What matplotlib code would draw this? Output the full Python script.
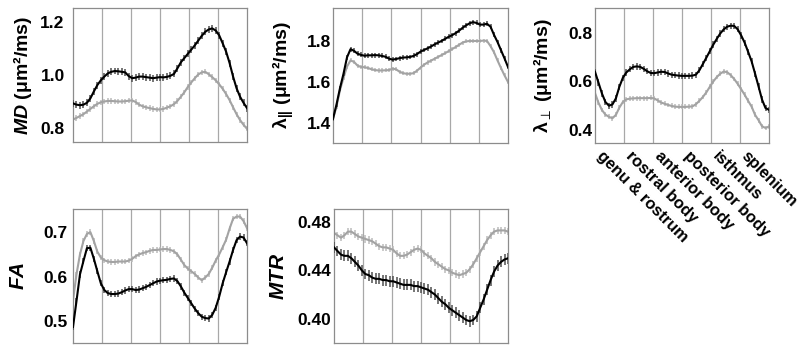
import numpy as np
import matplotlib
matplotlib.use("Agg")
import matplotlib.pyplot as plt
from matplotlib.transforms import ScaledTranslation

plt.rcParams['font.family'] = ['Liberation Sans', 'DejaVu Sans']
plt.rcParams['mathtext.fontset'] = 'custom'
plt.rcParams['mathtext.rm'] = 'Liberation Sans:bold'
plt.rcParams['mathtext.it'] = 'Liberation Sans:italic:bold'
plt.rcParams['mathtext.bf'] = 'Liberation Sans:bold'

regions = ["genu & rostrum", "rostral body", "anterior body",
           "posterior body", "isthmus", "splenium"]

md_black = [0.893, 0.888, 0.886, 0.888, 0.895, 0.912, 0.938, 0.962, 0.980, 0.994,
            1.006, 1.012, 1.015, 1.014, 1.012, 1.010, 0.996, 0.988, 0.990, 0.994,
            0.994, 0.992, 0.990, 0.988, 0.990, 0.992, 0.991, 0.993, 0.997, 1.004,
            1.025, 1.048, 1.064, 1.080, 1.096, 1.112, 1.130, 1.148, 1.163, 1.172,
            1.176, 1.168, 1.150, 1.120, 1.088, 1.045, 0.994, 0.950, 0.918, 0.895, 0.875]
md_gray = [0.832, 0.838, 0.845, 0.852, 0.862, 0.872, 0.882, 0.891, 0.897, 0.900,
           0.902, 0.902, 0.901, 0.900, 0.900, 0.901, 0.903, 0.904, 0.898, 0.888,
           0.882, 0.878, 0.875, 0.872, 0.870, 0.870, 0.872, 0.877, 0.882, 0.890,
           0.902, 0.918, 0.935, 0.955, 0.972, 0.988, 1.002, 1.010, 1.012, 1.003,
           0.992, 0.980, 0.965, 0.948, 0.928, 0.905, 0.878, 0.852, 0.830, 0.812, 0.797]

lpar_black = [1.420, 1.490, 1.570, 1.640, 1.720, 1.760, 1.752, 1.738, 1.732, 1.728,
              1.730, 1.730, 1.731, 1.730, 1.727, 1.723, 1.714, 1.709, 1.712, 1.716,
              1.719, 1.720, 1.722, 1.727, 1.736, 1.748, 1.756, 1.764, 1.773, 1.783,
              1.792, 1.800, 1.810, 1.820, 1.828, 1.838, 1.850, 1.864, 1.876, 1.886,
              1.892, 1.888, 1.880, 1.880, 1.884, 1.870, 1.830, 1.795, 1.755, 1.715, 1.673]
lpar_gray = [1.420, 1.480, 1.560, 1.620, 1.675, 1.705, 1.698, 1.680, 1.673, 1.672,
             1.668, 1.662, 1.658, 1.656, 1.656, 1.657, 1.658, 1.665, 1.662, 1.650,
             1.643, 1.640, 1.640, 1.643, 1.655, 1.670, 1.684, 1.695, 1.704, 1.713,
             1.722, 1.731, 1.740, 1.750, 1.760, 1.770, 1.781, 1.792, 1.798, 1.800,
             1.800, 1.800, 1.800, 1.802, 1.800, 1.775, 1.745, 1.705, 1.668, 1.632, 1.600]

lperp_black = [0.640, 0.595, 0.550, 0.515, 0.500, 0.505, 0.530, 0.578, 0.615, 0.637,
               0.650, 0.660, 0.662, 0.660, 0.652, 0.642, 0.635, 0.634, 0.637, 0.640,
               0.639, 0.633, 0.628, 0.626, 0.624, 0.623, 0.623, 0.623, 0.624, 0.628,
               0.646, 0.672, 0.698, 0.725, 0.752, 0.776, 0.798, 0.815, 0.826, 0.830,
               0.829, 0.815, 0.790, 0.760, 0.722, 0.683, 0.632, 0.579, 0.525, 0.490, 0.483]
lperp_gray = [0.552, 0.512, 0.482, 0.463, 0.454, 0.448, 0.462, 0.492, 0.515, 0.526,
              0.529, 0.530, 0.531, 0.531, 0.531, 0.531, 0.532, 0.530, 0.522, 0.513,
              0.508, 0.503, 0.499, 0.496, 0.495, 0.495, 0.495, 0.496, 0.497, 0.506,
              0.520, 0.536, 0.555, 0.578, 0.600, 0.618, 0.632, 0.641, 0.638, 0.626,
              0.610, 0.590, 0.568, 0.545, 0.520, 0.496, 0.462, 0.440, 0.415, 0.408, 0.414]

fa_black = [0.487, 0.545, 0.605, 0.635, 0.664, 0.665, 0.640, 0.612, 0.585, 0.570,
            0.563, 0.561, 0.561, 0.562, 0.565, 0.569, 0.572, 0.572, 0.570, 0.571,
            0.574, 0.577, 0.581, 0.585, 0.589, 0.591, 0.592, 0.593, 0.595, 0.596,
            0.590, 0.578, 0.564, 0.552, 0.540, 0.528, 0.518, 0.510, 0.507, 0.506,
            0.514, 0.530, 0.555, 0.585, 0.610, 0.634, 0.660, 0.682, 0.690, 0.688, 0.675]
fa_gray = [0.547, 0.605, 0.650, 0.680, 0.696, 0.700, 0.680, 0.656, 0.643, 0.637,
           0.634, 0.633, 0.633, 0.634, 0.634, 0.634, 0.636, 0.640, 0.646, 0.650,
           0.653, 0.655, 0.658, 0.660, 0.660, 0.661, 0.662, 0.662, 0.660, 0.657,
           0.650, 0.638, 0.626, 0.618, 0.612, 0.606, 0.598, 0.592, 0.598, 0.606,
           0.620, 0.636, 0.650, 0.666, 0.683, 0.708, 0.730, 0.735, 0.735, 0.725, 0.709]

mtr_black = [0.459, 0.456, 0.453, 0.452, 0.452, 0.450, 0.447, 0.444, 0.440, 0.437,
             0.436, 0.434, 0.433, 0.433, 0.432, 0.432, 0.431, 0.431, 0.430, 0.429,
             0.428, 0.428, 0.428, 0.427, 0.427, 0.426, 0.425, 0.424, 0.422, 0.420,
             0.417, 0.414, 0.412, 0.409, 0.407, 0.405, 0.403, 0.401, 0.399, 0.398,
             0.399, 0.402, 0.409, 0.416, 0.424, 0.432, 0.439, 0.444, 0.447, 0.449, 0.450]
mtr_gray = [0.471, 0.469, 0.467, 0.469, 0.472, 0.472, 0.470, 0.468, 0.467, 0.466,
            0.465, 0.464, 0.462, 0.460, 0.459, 0.459, 0.458, 0.457, 0.454, 0.452,
            0.452, 0.453, 0.455, 0.457, 0.458, 0.457, 0.454, 0.452, 0.450, 0.447,
            0.445, 0.443, 0.441, 0.440, 0.438, 0.437, 0.436, 0.437, 0.438, 0.441,
            0.445, 0.450, 0.455, 0.460, 0.465, 0.469, 0.472, 0.473, 0.473, 0.473, 0.472]

# error bar half-widths (per series: black, gray)
err = {"md": (0.013, 0.010), "lpar": (0.012, 0.010), "lperp": (0.013, 0.010),
       "fa": (0.007, 0.006), "mtr": (0.0045, 0.003)}

W, H = 800, 352
fig = plt.figure(figsize=(W / 100, H / 100), dpi=100)

def add_ax(left_px, top_px, w_px, h_px):
    return fig.add_axes([left_px / W, 1 - (top_px + h_px) / H, w_px / W, h_px / H])

panels = [
    dict(key="md", pos=(73, 8, 174, 134), black=md_black, gray=md_gray,
         ylim=(0.747, 1.253), ticks=[0.8, 1.0, 1.2], fmt="%.1f",
         label="$MD$ (μm²/ms)", lx=22, lsize=14, pad=6),
    dict(key="lpar", pos=(333, 8, 175, 135), black=lpar_black, gray=lpar_gray,
         ylim=(1.302, 1.961), ticks=[1.4, 1.6, 1.8], fmt="%.1f",
         label="λ$_{||}$ (μm²/ms)", lx=283, lsize=14, pad=1),
    dict(key="lperp", pos=(595, 8, 174, 135), black=lperp_black, gray=lperp_gray,
         ylim=(0.346, 0.903), ticks=[0.4, 0.6, 0.8], fmt="%.1f",
         label="λ$_{\\perp}$ (μm²/ms)", lx=542, lsize=14, pad=2),
    dict(key="fa", pos=(73, 209, 174, 134), black=fa_black, gray=fa_gray,
         ylim=(0.451, 0.752), ticks=[0.5, 0.6, 0.7], fmt="%.1f",
         label="$FA$", lx=18, lsize=15, pad=4),
    dict(key="mtr", pos=(334, 209, 174, 134), black=mtr_black, gray=mtr_gray,
         ylim=(0.380, 0.4907), ticks=[0.40, 0.44, 0.48], fmt="%.2f",
         label="$MTR$", lx=279, lsize=15, pad=2),
]

nreg = len(regions)
for p in panels:
    ax = add_ax(*p["pos"])
    n = len(p["black"])
    x = np.linspace(0, 100, n)
    eb, eg = err[p["key"]]
    for b in np.linspace(0, 100, nreg + 1)[1:-1]:
        ax.axvline(b, color="#a8a8a8", lw=0.9, zorder=0)
    ax.errorbar(x, p["gray"], yerr=eg, color="#a3a3a3", ecolor="#bcbcbc",
                elinewidth=1.1, lw=1.5, capsize=0, zorder=2)
    ax.errorbar(x, p["black"], yerr=eb, color="#000000", ecolor="#505050",
                elinewidth=1.1, lw=1.5, capsize=0, zorder=3)
    ax.set_xlim(0, 100)
    ax.set_ylim(*p["ylim"])
    ax.set_yticks(p["ticks"])
    ax.set_yticklabels([p["fmt"] % t for t in p["ticks"]])
    ax.tick_params(axis="y", length=0, pad=p["pad"], labelsize=12.5)
    for lab in ax.get_yticklabels():
        lab.set_fontweight("bold")
    for s in ax.spines.values():
        s.set_color("#8c8c8c")
        s.set_linewidth(0.9)
    if p["key"] == "lperp":
        centers = (np.arange(nreg) + 0.5) * 100 / nreg
        ax.set_xticks(centers)
        ax.set_xticklabels(regions, rotation=-45, ha="left", va="top",
                           rotation_mode="anchor", fontsize=11.8, fontweight="bold")
        ax.tick_params(axis="x", length=0, pad=4)
        shift = ScaledTranslation(-5 / 100, 0, fig.dpi_scale_trans)
        for lab in ax.get_xticklabels():
            lab.set_transform(lab.get_transform() + shift)
    else:
        ax.set_xticks([])
    top_px, h_px = p["pos"][1], p["pos"][3]
    fig.text(p["lx"] / W, 1 - (top_px + h_px / 2) / H, p["label"],
             rotation=90, ha="center", va="center", fontsize=p["lsize"],
             fontweight="bold")

fig.savefig("out.png", dpi=100)
